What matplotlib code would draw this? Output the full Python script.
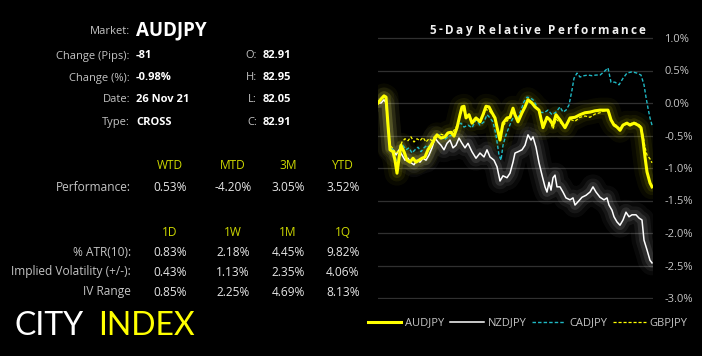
import matplotlib
matplotlib.use('Agg')
import matplotlib.pyplot as plt

# 5-day relative performance (%), t = bar index
t_aud = [0, 3, 6, 8, 10, 12, 15, 17, 19, 21, 23, 26, 29, 32, 35, 38, 41, 44, 47, 50, 53, 56, 59, 63, 67, 70, 73, 76,
         79, 82, 84, 86, 88, 91, 94, 98, 102, 105, 108, 111, 114, 117, 119, 122, 125, 129, 132, 135, 137, 140, 144,
         147, 150, 154, 157, 161, 165, 169, 172, 175, 178, 182, 187, 192, 197, 202, 207, 212, 217, 222, 226, 230,
         233, 236, 239, 242, 245, 249, 252, 256, 260, 263, 265, 267, 269, 272, 274]
audjpy = [0.0, 0.06, 0.11, 0.09, -0.34, -0.72, -0.75, -0.88, -1.08, -0.85, -0.65, -0.75, -0.88, -0.91, -0.85, -0.91,
          -0.88, -0.85, -0.83, -0.72, -0.65, -0.57, -0.49, -0.54, -0.52, -0.46, -0.45, -0.51, -0.38, -0.18, -0.06,
          -0.05, -0.23, -0.18, -0.31, -0.23, -0.29, -0.18, -0.05, -0.06, -0.15, -0.23, -0.37, -0.57, -0.31, -0.23,
          -0.22, -0.08, -0.18, -0.29, -0.15, -0.06, 0.05, 0.0, -0.06, -0.11, -0.38, -0.22, -0.26, -0.34, -0.18,
          -0.26, -0.38, -0.23, -0.22, -0.18, -0.15, -0.14, -0.12, -0.11, -0.11, -0.11, -0.26, -0.34, -0.37, -0.42,
          -0.34, -0.31, -0.34, -0.31, -0.34, -0.38, -0.57, -0.83, -1.06, -1.23, -1.29]

t_nzd = [0, 3, 6, 8, 10, 12, 15, 18, 21, 24, 27, 30, 33, 36, 39, 42, 45, 48, 51, 54, 57, 60, 63, 66, 69, 72, 75, 78,
         81, 84, 87, 90, 94, 98, 102, 106, 109, 112, 116, 119, 122, 125, 129, 132, 135, 137, 140, 144, 147, 150, 153,
         155, 158, 161, 164, 167, 169, 171, 173, 175, 177, 179, 182, 185, 188, 192, 195, 197, 200, 204, 208, 212,
         215, 218, 222, 226, 229, 231, 234, 236, 239, 242, 245, 248, 251, 254, 258, 261, 264, 266, 269, 272, 274]
nzdjpy = [0.0, 0.0, 0.05, 0.0, -0.34, -0.69, -0.72, -0.8, -0.72, -0.8, -0.88, -0.85, -0.92, -0.95, -0.88, -0.91,
          -0.85, -0.88, -0.8, -0.69, -0.54, -0.6, -0.65, -0.72, -0.62, -0.57, -0.69, -0.65, -0.54, -0.62, -0.69,
          -0.62, -0.75, -0.85, -0.77, -0.83, -0.72, -0.83, -0.88, -0.98, -1.2, -1.12, -1.15, -1.08, -0.91, -0.77,
          -0.75, -0.72, -0.65, -0.49, -0.57, -0.52, -0.68, -0.92, -1.11, -1.29, -1.37, -1.22, -1.34, -1.15, -1.11,
          -1.29, -1.29, -1.37, -1.46, -1.49, -1.46, -1.57, -1.52, -1.45, -1.42, -1.37, -1.29, -1.37, -1.45, -1.49,
          -1.46, -1.57, -1.65, -1.75, -1.83, -1.88, -1.8, -1.68, -1.75, -1.72, -1.72, -1.77, -1.8, -2.11, -2.26,
          -2.42, -2.46]

t_cad = [0, 3, 6, 8, 10, 12, 15, 18, 20, 22, 25, 28, 31, 34, 37, 40, 43, 46, 49, 52, 55, 58, 62, 66, 70, 74, 77, 80,
         83, 86, 90, 94, 98, 102, 106, 109, 112, 115, 118, 121, 123, 125, 128, 131, 134, 137, 140, 143, 146, 149, 152,
         155, 158, 162, 166, 170, 174, 178, 182, 185, 188, 191, 194, 196, 199, 202, 206, 210, 214, 218, 222, 226,
         230, 233, 237, 241, 245, 249, 254, 259, 263, 266, 268, 270, 272, 274]
cadjpy = [0.0, 0.05, 0.09, 0.06, -0.42, -0.69, -0.72, -0.88, -0.95, -0.72, -0.65, -0.72, -0.69, -0.77, -0.72, -0.68,
          -0.75, -0.69, -0.65, -0.69, -0.57, -0.52, -0.49, -0.57, -0.52, -0.49, -0.46, -0.34, -0.31, -0.37, -0.34,
          -0.38, -0.26, -0.34, -0.29, -0.18, -0.23, -0.29, -0.49, -0.8, -0.88, -0.65, -0.49, -0.37, -0.26, -0.18,
          -0.23, -0.11, 0.02, 0.09, 0.08, 0.05, -0.03, -0.14, -0.15, -0.11, -0.18, -0.14, -0.06, -0.14, -0.11,
          -0.03, 0.2, 0.38, 0.46, 0.4, 0.42, 0.43, 0.42, 0.43, 0.43, 0.48, 0.54, 0.32, 0.32, 0.28, 0.38, 0.46,
          0.48, 0.46, 0.43, 0.28, 0.09, -0.08, -0.23, -0.34]

t_gbp = [0, 3, 6, 8, 10, 12, 15, 18, 21, 24, 27, 30, 33, 36, 39, 42, 45, 48, 51, 54, 57, 60, 63, 67, 70, 73, 76, 79,
         82, 84, 86, 88, 91, 94, 98, 102, 105, 108, 111, 114, 117, 120, 122, 125, 129, 132, 135, 138, 141, 144, 147,
         150, 154, 157, 161, 165, 169, 172, 175, 178, 182, 187, 192, 197, 202, 207, 212, 217, 222, 226, 230, 233,
         236, 239, 242, 245, 249, 252, 256, 260, 263, 265, 267, 269, 272, 274]
gbpjpy = [0.0, 0.06, 0.1, 0.08, -0.3, -0.65, -0.7, -0.78, -0.72, -0.6, -0.55, -0.58, -0.52, -0.6, -0.55, -0.58, -0.53,
          -0.6, -0.55, -0.58, -0.5, -0.52, -0.48, -0.5, -0.45, -0.47, -0.42, -0.35, -0.2, -0.1, -0.12, -0.22, -0.2,
          -0.28, -0.22, -0.27, -0.2, -0.1, -0.12, -0.17, -0.25, -0.42, -0.48, -0.35, -0.28, -0.22, -0.15, -0.2,
          -0.25, -0.15, -0.05, 0.03, 0.0, -0.05, -0.12, -0.3, -0.25, -0.28, -0.4, -0.25, -0.3, -0.35, -0.25, -0.28,
          -0.22, -0.2, -0.22, -0.17, -0.15, -0.12, -0.13, -0.25, -0.32, -0.35, -0.4, -0.33, -0.3, -0.32, -0.3,
          -0.32, -0.36, -0.5, -0.68, -0.8, -0.86, -0.92]

y_ticks = [1.0, 0.5, 0.0, -0.5, -1.0, -1.5, -2.0, -2.5, -3.0]

# left panel
info_labels = ['Change (Pips):', 'Change (%):', 'Date:', 'Type:']
info_values = ['-81', '-0.98%', '26 Nov 21', 'CROSS']
ohlc_labels = ['O:', 'H:', 'L:', 'C:']
ohlc_values = ['82.91', '82.95', '82.05', '82.91']
perf_heads = ['WTD', 'MTD', '3M', 'YTD']
perf_values = ['0.53%', '-4.20%', '3.05%', '3.52%']
vol_heads = ['1D', '1W', '1M', '1Q']
vol_rows = ['% ATR(10):', 'Implied Volatility (+/-):', 'IV Range']
vol_values = [['0.83%', '2.18%', '4.45%', '9.82%'],
              ['0.43%', '1.13%', '2.35%', '4.06%'],
              ['0.85%', '2.25%', '4.69%', '8.13%']]

W, H = 702, 356
YEL = '#ffff00'
CYAN = '#1fb8c4'
GREY = '#c4c4c4'
HEAD = '#cdd800'
plt.rcParams['font.family'] = ['Open Sans', 'DejaVu Sans']

fig = plt.figure(figsize=(W / 100, H / 100), dpi=100, facecolor='black')

def px(x, y):
    return x / W, 1 - y / H

# chart
ax = fig.add_axes([378 / W, 1 - 299.3 / H, 275 / W, 262.6 / H])
ax.set_facecolor('black')
ax.set_xlim(0, 275)
ax.set_ylim(-3.02, 1.02)
ax.set_yticks(y_ticks)
ax.set_yticklabels(['%.1f%%' % v for v in y_ticks])
ax.yaxis.tick_right()
ax.tick_params(axis='y', length=0, pad=8, labelsize=8, labelcolor=GREY)
ax.set_xticks([])
for s in ax.spines.values():
    s.set_visible(False)
ax.grid(axis='y', color='#303030', lw=0.9)

# glow under the two solid lines
for lw, a in [(18, 0.04), (12, 0.06), (7, 0.1)]:
    ax.plot(t_nzd, nzdjpy, color='white', lw=lw, alpha=a, solid_capstyle='round')
    ax.plot(t_aud, audjpy, color=YEL, lw=lw, alpha=a, solid_capstyle='round')

l_nzd, = ax.plot(t_nzd, nzdjpy, color='white', lw=1.1, label='NZDJPY')
l_gbp, = ax.plot(t_gbp, gbpjpy, color=YEL, lw=0.9, ls=(0, (2.5, 1.5)), label='GBPJPY')
l_cad, = ax.plot(t_cad, cadjpy, color=CYAN, lw=1.0, ls=(0, (2.5, 1.5)), label='CADJPY')
l_aud, = ax.plot(t_aud, audjpy, color=YEL, lw=2.2, label='AUDJPY')

leg = fig.legend(handles=[l_aud, l_nzd, l_cad, l_gbp], loc='center', bbox_to_anchor=px(528, 323),
                 ncol=4, frameon=False, fontsize=8, labelcolor=GREY, handlelength=3.0,
                 handletextpad=0.35, columnspacing=0.5)

# letter-spaced title, right aligned at x=645
title = '5-Day Relative Performance'
renderer = fig.canvas.get_renderer()
pieces = []
x = 0.0
for ch in title:
    t = fig.text(0, 0, ch, color='#f0f0f0', fontsize=8.5, fontweight='bold', va='center')
    w = t.get_window_extent(renderer).width if ch != ' ' else 3.0
    pieces.append((t, x))
    x += w + 2.1
total = x - 2.1
for t, xo in pieces:
    t.set_position(px(645 - total + xo, 30))

# info block
fig.text(*px(130, 32), 'Market:', color=GREY, fontsize=8, ha='right', va='center')
fig.text(*px(136, 30), 'AUDJPY', color='white', fontsize=13.5, fontweight='bold', ha='left', va='center')
for i in range(4):
    y = 56 + 22 * i
    fig.text(*px(130, y), info_labels[i], color=GREY, fontsize=8, ha='right', va='center')
    fig.text(*px(136, y), info_values[i], color='white', fontsize=8, fontweight='bold', ha='left', va='center')
    fig.text(*px(257, y), ohlc_labels[i], color=GREY, fontsize=8, ha='right', va='center')
    fig.text(*px(263, y), ohlc_values[i], color='white', fontsize=8, fontweight='bold', ha='left', va='center')

cols = [170, 233, 288, 343]
fs = 8.6
for j in range(4):
    fig.text(*px(cols[j], 166), perf_heads[j], color=HEAD, fontsize=fs, ha='center', va='center')
    fig.text(*px(cols[j], 188), perf_values[j], color='#e6e6e6', fontsize=fs, ha='center', va='center')
    fig.text(*px(cols[j], 232), vol_heads[j], color=HEAD, fontsize=fs, ha='center', va='center')
fig.text(*px(131, 188), 'Performance:', color=GREY, fontsize=fs, ha='right', va='center')
for i, name in enumerate(vol_rows):
    y = 252 + 20 * i
    fig.text(*px(131, y), name, color=GREY, fontsize=fs, ha='right', va='center')
    for j in range(4):
        fig.text(*px(cols[j], y), vol_values[i][j], color='#e6e6e6', fontsize=fs, ha='center', va='center')

# logo
fig.text(*px(14, 335), 'CITY', color='white', fontsize=23, family=['Lato', 'DejaVu Sans'],
         fontweight='normal', ha='left', va='baseline')
fig.text(*px(98, 335), 'INDEX', color=YEL, fontsize=23, family=['Lato', 'DejaVu Sans'],
         fontweight='normal', ha='left', va='baseline')

fig.savefig('out.png', dpi=100, facecolor='black')
